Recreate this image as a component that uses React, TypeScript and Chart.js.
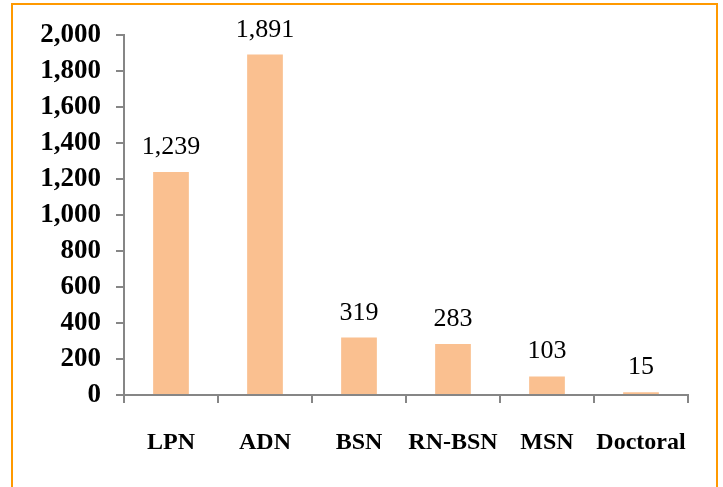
import React, { useEffect, useRef } from "react";
import { Chart, registerables } from "chart.js";

Chart.register(...registerables);

const categories = ["LPN", "ADN", "BSN", "RN-BSN", "MSN", "Doctoral"];
const values = [1239, 1891, 319, 283, 103, 15];
const yMin = 0;
const yMax = 2000;
const yStep = 200;

const W = 723;
const H = 487;
const FONT = "'Liberation Serif', 'Times New Roman', serif";

const fmt = (v: number) => v.toLocaleString("en-US");

const valueLabels = {
  id: "valueLabels",
  afterDatasetsDraw(chart: any) {
    const ctx = chart.ctx;
    const meta = chart.getDatasetMeta(0);
    ctx.save();
    ctx.font = `26px ${FONT}`;
    ctx.fillStyle = "#000";
    ctx.textAlign = "center";
    ctx.textBaseline = "alphabetic";
    meta.data.forEach((bar: any, i: number) => {
      ctx.fillText(fmt(values[i]), bar.x, bar.y - 18);
    });
    ctx.restore();
  },
};

export default function App() {
  const ref = useRef<HTMLCanvasElement | null>(null);

  useEffect(() => {
    if (!ref.current) return;
    const chart = new Chart(ref.current, {
      type: "bar",
      data: {
        labels: categories,
        datasets: [
          {
            data: values,
            backgroundColor: "#FAC090",
            borderWidth: 0,
            barPercentage: 0.38,
            categoryPercentage: 1,
          },
        ],
      },
      options: {
        responsive: false,
        animation: false,
        devicePixelRatio: 1,
        layout: { padding: { top: 35, right: 35, left: 0, bottom: 0 } },
        plugins: {
          legend: { display: false },
          tooltip: { enabled: false },
        },
        scales: {
          y: {
            min: yMin,
            max: yMax,
            ticks: {
              stepSize: yStep,
              callback: (v: any) => fmt(Number(v)),
              font: { family: FONT, size: 27, weight: "bold" },
              color: "#000",
              padding: 15,
            },
            grid: {
              drawOnChartArea: false,
              tickLength: 8,
              color: "#868686",
              lineWidth: 2,
            },
            border: { color: "#868686", width: 2 },
            afterFit: (s: any) => {
              s.width = 124;
            },
          },
          x: {
            ticks: {
              font: { family: FONT, size: 24, weight: "bold" },
              color: "#000",
              padding: 25,
              maxRotation: 0,
              minRotation: 0,
              autoSkip: false,
            },
            grid: {
              offset: true,
              drawOnChartArea: false,
              tickLength: 8,
              color: "#868686",
              lineWidth: 2,
            },
            border: { color: "#868686", width: 2 },
            afterFit: (s: any) => {
              s.height = 92;
            },
          },
        },
      },
      plugins: [valueLabels],
    });
    return () => chart.destroy();
  }, []);

  return (
    <div
      style={{
        position: "fixed",
        left: 0,
        top: 0,
        width: W,
        height: H,
        overflow: "hidden",
        background: "#fff",
      }}
    >
      <canvas
        ref={ref}
        width={W}
        height={H}
        style={{ position: "absolute", left: 0, top: 0, width: W, height: H }}
      />
      <div
        style={{
          position: "absolute",
          left: 11,
          top: 3,
          width: 707,
          height: 520,
          boxSizing: "border-box",
          border: "2px solid #FF9900",
          borderBottom: "none",
          pointerEvents: "none",
        }}
      />
    </div>
  );
}
